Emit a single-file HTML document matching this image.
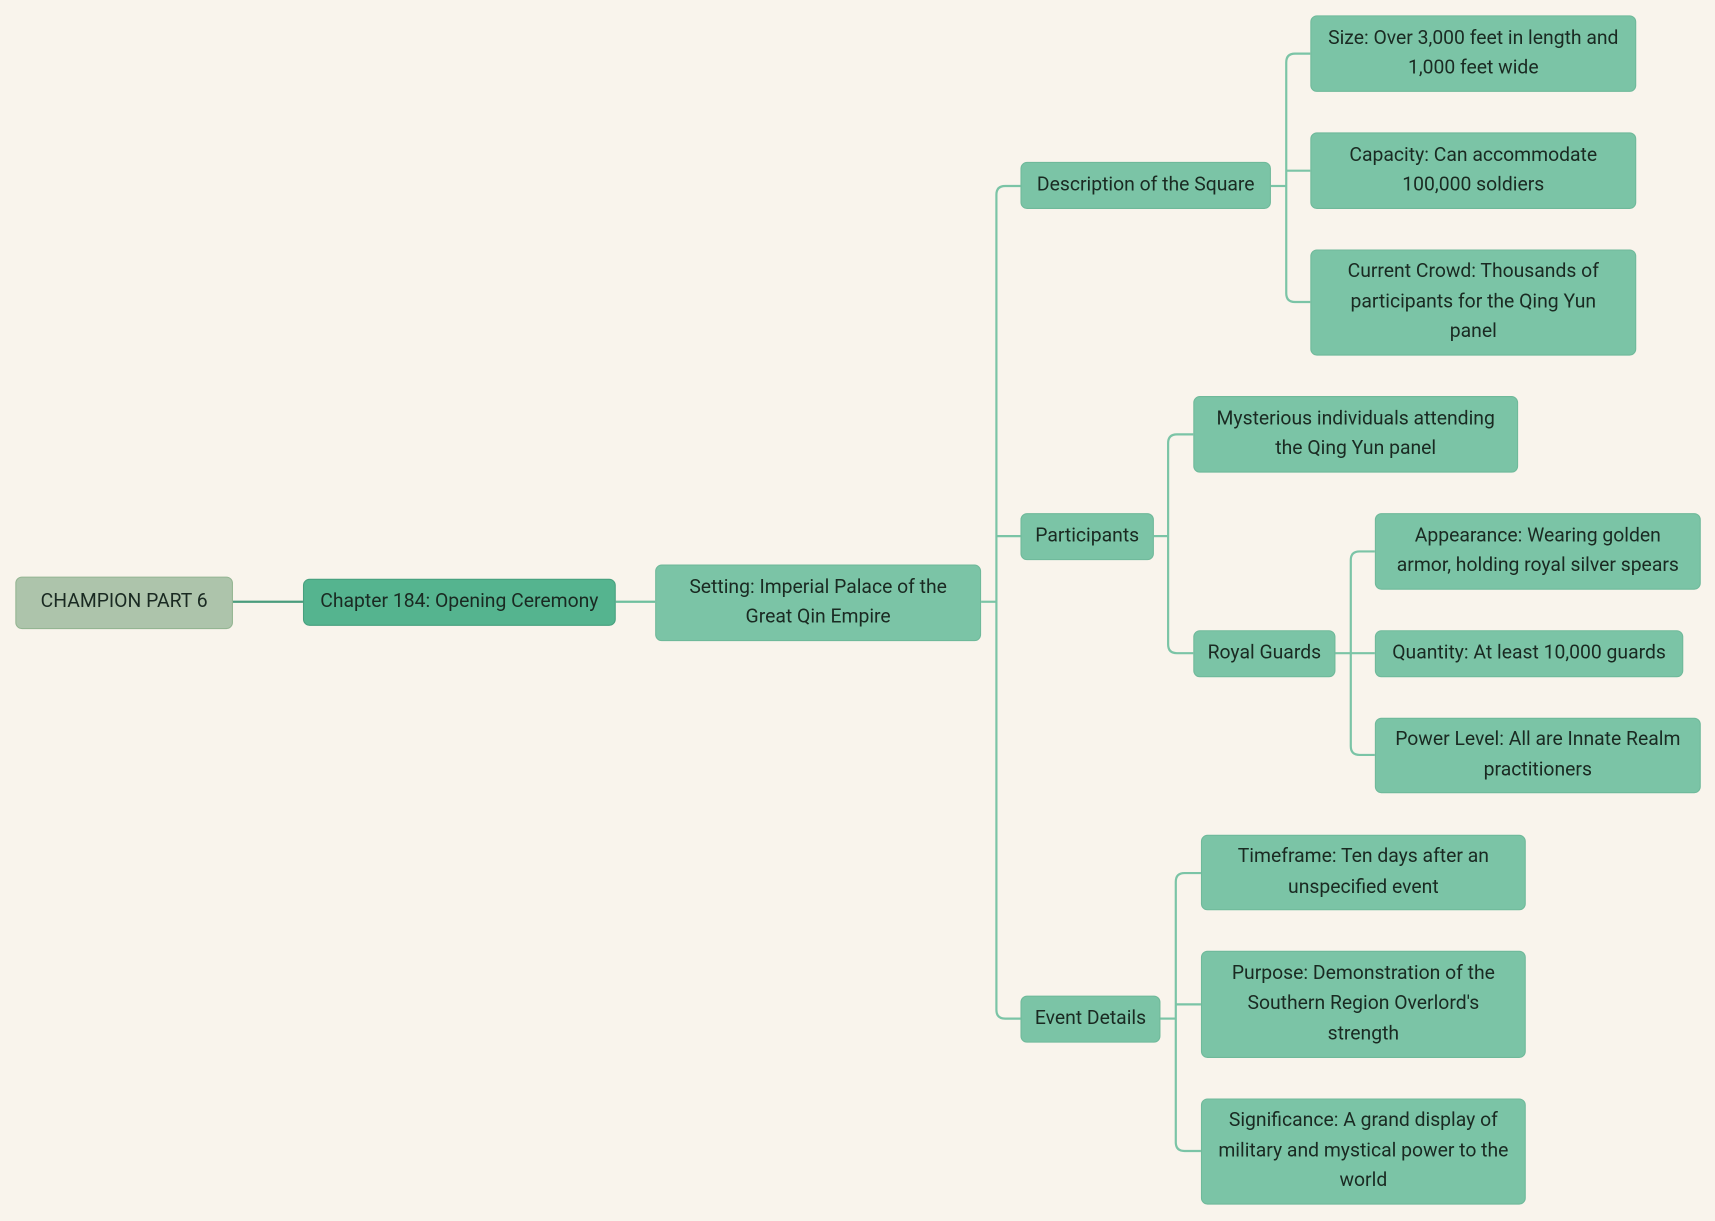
<!DOCTYPE html>
<html><head><meta charset="utf-8"><style>
html,body{margin:0;padding:0;background:#f9f4ec;}
#w{position:relative;width:1568px;height:1116px;transform:scale(1.09375,1.09409);transform-origin:0 0;font-family:"Roboto","Liberation Sans",sans-serif;}
.n{position:absolute;box-sizing:border-box;display:flex;align-items:center;justify-content:center;text-align:center;font-size:17.7px;line-height:27.5px;color:#1a2a22;background:#7bc4a6;border:1px solid #6fb99a;border-radius:6px;padding:0 12px;}
svg{position:absolute;left:0;top:0;}
</style></head><body><div id="w">
<svg width="1568" height="1116" fill="none" stroke-width="2">
<path d="M213 550H277" stroke="#4a9c7d"/>
<path d="M563 550H599" stroke="#6fbf9e"/>
<g stroke="#7bc4a6">
<path d="M897 550H911"/>
<path d="M933 170H919Q911 170 911 178V923Q911 931 919 931H933"/>
<path d="M911 490H933"/>
<path d="M1162 170H1176"/>
<path d="M1198 49H1184Q1176 49 1176 57V268Q1176 276 1184 276H1198"/>
<path d="M1176 156H1198"/>
<path d="M1055 490H1068"/>
<path d="M1091 397H1076Q1068 397 1068 405V589Q1068 597 1076 597H1091"/>
<path d="M1221 597H1257"/>
<path d="M1257 504H1243Q1235 504 1235 512V682Q1235 690 1243 690H1257"/>
<path d="M1061 931H1075"/>
<path d="M1098 798H1083Q1075 798 1075 806V1044Q1075 1052 1083 1052H1098"/>
<path d="M1075 918H1098"/>
</g>
</svg>
<div class="n" style="left:14px;top:527px;width:199px;height:48px;background:#adc4ab;border-color:#94b592">CHAMPION PART 6</div>
<div class="n" style="left:277px;top:529px;width:286px;height:43px;background:#55b48f;border-color:#47a07e;padding:0 6px">Chapter 184: Opening Ceremony</div>
<div class="n" style="left:599px;top:516px;width:298px;height:70px;padding:0 24px">Setting: Imperial Palace of the Great Qin Empire</div>
<div class="n" style="left:933px;top:148px;width:229px;height:43px;padding:0 6px">Description of the Square</div>
<div class="n" style="left:933px;top:469px;width:122px;height:43px;padding:0 4px">Participants</div>
<div class="n" style="left:933px;top:910px;width:128px;height:43px;padding:0 4px">Event Details</div>
<div class="n" style="left:1198px;top:14px;width:298px;height:70px">Size: Over 3,000 feet in length and 1,000 feet wide</div>
<div class="n" style="left:1198px;top:121px;width:298px;height:70px">Capacity: Can accommodate 100,000 soldiers</div>
<div class="n" style="left:1198px;top:228px;width:298px;height:97px;padding:0 28px">Current Crowd: Thousands of participants for the Qing Yun panel</div>
<div class="n" style="left:1091px;top:362px;width:297px;height:70px">Mysterious individuals attending the Qing Yun panel</div>
<div class="n" style="left:1091px;top:576px;width:130px;height:43px;padding:0 4px">Royal Guards</div>
<div class="n" style="left:1257px;top:469px;width:298px;height:70px;padding:0 12px">Appearance: Wearing golden armor, holding royal silver spears</div>
<div class="n" style="left:1257px;top:576px;width:282px;height:43px;padding:0 4px">Quantity: At least 10,000 guards</div>
<div class="n" style="left:1257px;top:656px;width:298px;height:69px;padding:0 6px">Power Level: All are Innate Realm practitioners</div>
<div class="n" style="left:1098px;top:763px;width:297px;height:69px;padding:0 24px">Timeframe: Ten days after an unspecified event</div>
<div class="n" style="left:1098px;top:869px;width:297px;height:98px;padding:0 20px">Purpose: Demonstration of the Southern Region Overlord's strength</div>
<div class="n" style="left:1098px;top:1004px;width:297px;height:97px;padding:0 8px">Significance: A grand display of military and mystical power to the world</div>
</div></body></html>
